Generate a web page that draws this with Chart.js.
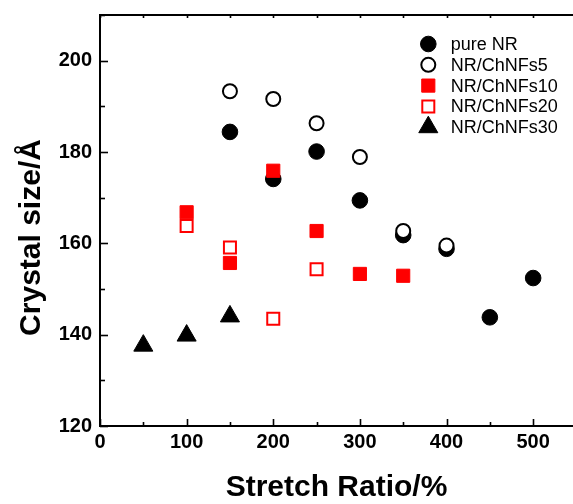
<!DOCTYPE html>
<html>
<head>
<meta charset="utf-8">
<script src="https://cdn.jsdelivr.net/npm/chart.js@4.4.1/dist/chart.umd.min.js"></script>
<style>
  html, body { margin: 0; padding: 0; background: #fff; }
  #wrap { width: 573px; height: 504px; }
</style>
</head>
<body>
<div id="wrap"><canvas id="c" width="573" height="504"></canvas></div>
<script>
// Crystal size (Å) against stretch ratio (%) for each compound
const stretchPureNR = [150, 200, 250, 300, 350, 400, 450, 500];
const sizePureNR    = [184.4, 174.1, 180.1, 169.4, 161.8, 158.8, 143.8, 152.4];

const stretchNF5 = [150, 200, 250, 300, 350, 400];
const sizeNF5    = [193.3, 191.6, 186.3, 178.9, 162.7, 159.5];

const stretchNF10 = [100, 150, 200, 250, 300, 350];
const sizeNF10    = [166.8, 155.7, 175.9, 162.7, 153.3, 152.9];

const stretchNF20 = [100, 150, 200, 250];
const sizeNF20    = [163.8, 159.1, 143.5, 154.3];

const stretchNF30 = [50, 100, 150];
const sizeNF30    = [137.6, 139.8, 144.0];

const seriesNames = ['pure NR', 'NR/ChNFs5', 'NR/ChNFs10', 'NR/ChNFs20', 'NR/ChNFs30'];
const xTickLabels = [0, 100, 200, 300, 400, 500];
const yTickLabels = [120, 140, 160, 180, 200];

const FONT = "'Liberation Sans', Arial, Helvetica, sans-serif";
const RED = '#ff0000';
const BLACK = '#000000';

function pairs(xs, ys) {
  return xs.map((x, i) => ({ x: x, y: ys[i] }));
}

// marker look for each series
const markerStyles = [
  { pointStyle: 'circle',   radius: 7.8, bg: BLACK,  border: BLACK, bw: 1,   order: 5 },
  { pointStyle: 'circle',   radius: 7,   bg: '#fff', border: BLACK, bw: 2,   order: 4 },
  { pointStyle: 'rect',     radius: 9.3, bg: RED,    border: RED,   bw: 1,   order: 3 },
  { pointStyle: 'rect',     radius: 8.5, bg: '#fff', border: RED,   bw: 2,   order: 2 },
  { pointStyle: 'triangle', radius: 11,  bg: BLACK,  border: BLACK, bw: 1,   order: 1 }
];

const seriesData = [
  pairs(stretchPureNR, sizePureNR),
  pairs(stretchNF5, sizeNF5),
  pairs(stretchNF10, sizeNF10),
  pairs(stretchNF20, sizeNF20),
  pairs(stretchNF30, sizeNF30)
];

const datasets = seriesNames.map((name, i) => {
  const m = markerStyles[i];
  return {
    label: name,
    data: seriesData[i],
    showLine: false,
    pointStyle: m.pointStyle,
    pointRadius: m.radius,
    pointHoverRadius: m.radius,
    pointBackgroundColor: m.bg,
    pointBorderColor: m.border,
    pointBorderWidth: m.bw,
    backgroundColor: m.bg,
    borderColor: m.border,
    order: m.order
  };
});

// inward tick marks on the bottom, left and top edges, plus the top frame line
const frameTicks = {
  id: 'frameTicks',
  beforeDatasetsDraw(chart) {
    const { ctx, chartArea: a, scales: { x, y } } = chart;
    ctx.save();
    ctx.strokeStyle = BLACK;
    ctx.lineWidth = 2;
    ctx.beginPath();
    ctx.moveTo(a.left - 1, a.top);
    ctx.lineTo(a.right + 2, a.top);
    ctx.stroke();
    ctx.lineWidth = 1.6;
    for (let v = 0; v <= x.max; v += 50) {
      const px = Math.round(x.getPixelForValue(v)) + 0.5;
      const major = v % 100 === 0;
      ctx.beginPath();
      ctx.moveTo(px, a.bottom);
      ctx.lineTo(px, a.bottom - (major ? 7 : 4));
      ctx.moveTo(px, a.top);
      ctx.lineTo(px, a.top + 3);
      ctx.stroke();
    }
    for (let v = y.min; v <= y.max; v += 10) {
      const py = Math.round(y.getPixelForValue(v)) + 0.5;
      const major = v % 20 === 0;
      ctx.beginPath();
      ctx.moveTo(a.left, py);
      ctx.lineTo(a.left + (major ? 8 : 5), py);
      ctx.stroke();
    }
    ctx.restore();
  }
};

// legend box in the upper right of the plot
const seriesKey = {
  id: 'seriesKey',
  afterDatasetsDraw(chart) {
    const { ctx } = chart;
    const x0 = 428.3, y0 = 44, step = 20.8, textX = 450.7;
    ctx.save();
    chart.data.datasets.forEach((ds, i) => {
      const yy = y0 + i * step;
      ctx.fillStyle = ds.pointBackgroundColor;
      ctx.strokeStyle = ds.pointBorderColor;
      ctx.lineWidth = ds.pointBorderWidth;
      Chart.helpers.drawPoint(ctx, {
        pointStyle: ds.pointStyle,
        radius: ds.pointRadius,
        rotation: 0,
        borderWidth: ds.pointBorderWidth
      }, x0, yy);
      ctx.fillStyle = BLACK;
      ctx.font = '18px ' + FONT;
      ctx.textAlign = 'left';
      ctx.textBaseline = 'middle';
      ctx.fillText(ds.label, textX, yy + 1);
    });
    ctx.restore();
  }
};

// the y title sits a little below the middle of the axis
const shiftYTitle = {
  id: 'shiftYTitle',
  afterLayout(chart) {
    const s = chart.scales.y;
    if (s && !s._titleShifted) {
      const orig = s.drawTitle.bind(s);
      s.drawTitle = function () {
        const c = chart.ctx;
        c.save();
        c.translate(0, 17);
        orig();
        c.restore();
      };
      s._titleShifted = true;
    }
  }
};

new Chart(document.getElementById('c'), {
  type: 'scatter',
  data: { datasets: datasets },
  options: {
    responsive: false,
    animation: false,
    devicePixelRatio: 1,
    layout: { autoPadding: false, padding: { top: 15, right: 0, left: 0, bottom: 0 } },
    plugins: {
      legend: { display: false },
      tooltip: { enabled: false }
    },
    scales: {
      x: {
        type: 'linear',
        bounds: 'data',
        min: 0,
        max: 546,
        grid: { display: false, drawTicks: false },
        border: { display: true, color: BLACK, width: 2 },
        ticks: {
          stepSize: 50,
          includeBounds: false,
          autoSkip: false,
          maxRotation: 0,
          color: BLACK,
          padding: 4,
          font: { family: FONT, size: 20, weight: 'bold' },
          callback: (v) => xTickLabels.includes(v) ? String(v) : ''
        },
        title: {
          display: true,
          text: 'Stretch Ratio/%',
          color: BLACK,
          font: { family: FONT, size: 30, weight: 'bold', lineHeight: 1 },
          padding: { top: 1, bottom: 1 }
        },
        afterFit: (s) => { s.height = 78; s.paddingLeft = 0; s.paddingRight = 0; }
      },
      y: {
        type: 'linear',
        min: 120,
        max: 210,
        grid: { display: false, drawTicks: false },
        border: { display: true, color: BLACK, width: 2 },
        ticks: {
          stepSize: 10,
          autoSkip: false,
          color: BLACK,
          padding: 8,
          font: { family: FONT, size: 20, weight: 'bold' },
          callback: (v) => yTickLabels.includes(v) ? String(v) : ''
        },
        title: {
          display: true,
          text: 'Crystal size/Å',
          color: BLACK,
          font: { family: FONT, size: 30, weight: 'bold', lineHeight: 1 },
          padding: { top: 17, bottom: 0 }
        },
        afterFit: (s) => { s.width = 100; s.paddingTop = 0; s.paddingBottom = 0; }
      }
    }
  },
  plugins: [frameTicks, seriesKey, shiftYTitle]
});
</script>
</body>
</html>
